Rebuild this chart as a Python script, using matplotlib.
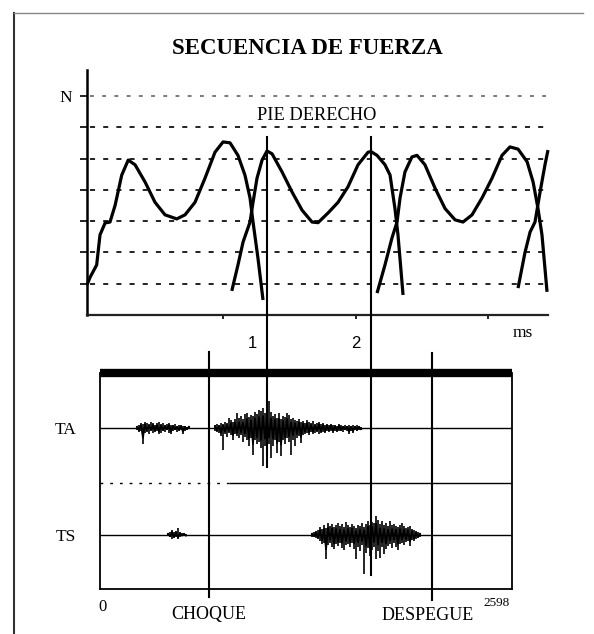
import numpy as np
import matplotlib
matplotlib.use('Agg')
import matplotlib.pyplot as plt

plt.rcParams['font.family'] = ['Liberation Serif', 'DejaVu Serif']

# force curves, x in ms (same scale as EMG below), y in grid units
step1_t = [-82, -63, -21, 0, 32, 63, 95, 137, 178, 221, 284, 347, 410, 484, 536,
           599, 662, 725, 776, 820, 870, 914, 946, 965, 996, 1028]
step1_f = [0.96, 1.2, 1.6, 2.56, 2.94, 2.97, 3.5, 4.47, 4.95, 4.8, 4.25, 3.6, 3.2, 3.07, 3.2,
           3.6, 4.37, 5.2, 5.53, 5.5, 5.1, 4.47, 3.74, 2.97, 1.82, 0.48]
step2_t = [831, 870, 902, 946, 965, 990, 1022, 1053, 1085, 1148, 1211, 1274, 1337, 1375,
           1438, 1501, 1564, 1627, 1690, 1709, 1747, 1797, 1829, 1860, 1879, 1911]
step2_f = [0.77, 1.6, 2.33, 2.97, 3.6, 4.37, 4.95, 5.24, 5.15, 4.57, 3.93, 3.35, 2.97, 2.95,
           3.26, 3.6, 4.1, 4.8, 5.2, 5.22, 5.1, 4.8, 4.47, 3.4, 2.56, 0.64]
step3_t = [1747, 1797, 1841, 1873, 1892, 1923, 1967, 1999, 2049, 2113, 2176, 2239, 2289,
           2346, 2409, 2472, 2535, 2585, 2636, 2693, 2731, 2762, 2787, 2819]
step3_f = [0.7, 1.6, 2.46, 2.97, 3.74, 4.57, 5.05, 5.1, 4.8, 4.05, 3.4, 3.04, 2.97,
           3.2, 3.74, 4.37, 5.1, 5.37, 5.3, 4.9, 4.25, 3.4, 2.56, 0.74]
step4_t = [2636, 2680, 2712, 2743, 2775, 2806, 2825]
step4_f = [0.86, 2.0, 2.65, 2.97, 3.93, 4.8, 5.27]

grid_levels = [1, 2, 3, 4, 5, 6, 7]
force_ticks = [776, 1614, 2447]

# events (ms)
t_total = 2598
t_choque = 687
t_despegue = 2094
t_mark1 = 1053
t_mark2 = 1709

# EMG bursts: (start ms, end ms), upper / lower envelope per sample
ta1_span = (233, 561)
ta1_hi = [2, 3, 5, 4, 6, 5, 4, 6, 5, 3, 5, 6, 4, 5, 3, 4, 5, 3, 3, 4, 2, 3, 3, 2, 2, 1, 2]
ta1_lo = [-2, -4, -3, -16, -5, -4, -6, -3, -5, -4, -3, -6, -5, -3, -4, -2, -5, -6, -3, -2,
          -4, -3, -2, -6, -3, -2, -1]
ta2_span = (725, 1646)
ta2_hi = [3, 4, 3, 5, 4, 6, 5, 10, 8, 6, 9, 15, 10, 12, 9, 14, 15, 11, 13, 12, 16, 14, 18, 17,
          20, 15, 18, 27, 16, 12, 14, 10, 15, 9, 12, 11, 15, 13, 9, 10, 8, 7, 9, 6, 7, 5, 8, 6,
          5, 7, 4, 5, 6, 4, 5, 3, 4, 3, 4, 3, 3, 2, 4, 3, 2, 3, 2, 3, 2, 3, 2, 3, 2, 1]
ta2_lo = [-3, -4, -5, -8, -22, -6, -9, -5, -7, -12, -6, -8, -10, -7, -14, -9, -12, -18, -10,
          -27, -12, -16, -14, -20, -38, -18, -14, -16, -30, -18, -12, -25, -14, -28, -12, -16,
          -10, -14, -27, -12, -18, -10, -8, -15, -7, -6, -5, -7, -4, -6, -5, -4, -6, -5, -4,
          -5, -3, -4, -3, -5, -3, -4, -3, -3, -4, -2, -3, -6, -3, -5, -2, -3, -2, -2]
ts1_span = (429, 542)
ts1_hi = [2, 3, 5, 3, 4, 7, 3, 2, 2, 1]
ts1_lo = [-1, -2, -4, -3, -2, -4, -2, -1, -1, -1]
ts2_span = (1337, 2018)
ts2_hi = [2, 3, 4, 5, 8, 6, 10, 7, 12, 9, 11, 8, 10, 12, 9, 11, 8, 13, 10, 8, 11, 9, 7, 10,
          9, 12, 8, 11, 14, 10, 13, 12, 19, 15, 11, 14, 10, 12, 9, 14, 10, 11, 9, 8, 10, 12,
          9, 7, 8, 9, 6, 5, 4, 3, 2]
ts2_lo = [-2, -2, -3, -4, -6, -9, -8, -24, -10, -8, -12, -14, -9, -11, -8, -13, -15, -10, -9,
          -12, -8, -14, -24, -12, -16, -10, -39, -18, -13, -21, -15, -12, -24, -16, -23, -12,
          -19, -14, -11, -9, -13, -8, -12, -15, -9, -8, -10, -7, -6, -11, -5, -6, -4, -3, -2]

ta_base = 161
ts_base = 54
mid_line = 106

fig = plt.figure(figsize=(5.94, 6.34), dpi=100)

# page frame (left + top rule of the scanned page)
frame = fig.add_axes([14 / 594, 0, 569 / 594, 1 - 13 / 634])
frame.set_xticks([])
frame.set_yticks([])
frame.patch.set_alpha(0)
for s in ['right', 'bottom']:
    frame.spines[s].set_visible(False)
frame.spines['top'].set_color('#888888')
frame.spines['top'].set_linewidth(1)
frame.spines['left'].set_color('#333333')
frame.spines['left'].set_linewidth(1.5)

fig.text(0.517, 1 - 49 / 634, 'SECUENCIA DE FUERZA', ha='center', va='center',
         fontsize=16.5, fontweight='bold')

# force plot
ax1 = fig.add_axes([87 / 594, 1 - 315 / 634, 461 / 594, 245 / 634])
ax1.set_xlim(-82, 2825)
ax1.set_ylim(0, 245 / 31.3)
ax1.patch.set_alpha(0)
ax1.spines['top'].set_visible(False)
ax1.spines['right'].set_visible(False)
ax1.spines['left'].set_linewidth(1.8)
ax1.spines['bottom'].set_linewidth(1.6)
ax1.spines['bottom'].set_color('#222222')

ax1.hlines(grid_levels[:-1], -60, 2825, colors='#111111', lw=1.3,
           linestyles=[(0, (2.8, 4.5))])
ax1.hlines(grid_levels[-1:], -60, 2825, colors='#555555', lw=1.1,
           linestyles=[(0, (2.5, 5.5))])

for t, f in [(step1_t, step1_f), (step2_t, step2_f), (step3_t, step3_f), (step4_t, step4_f)]:
    ax1.plot(t, f, color='black', lw=2.3, solid_joinstyle='round', solid_capstyle='butt',
             clip_on=False)

ax1.set_yticks(grid_levels)
ax1.set_yticklabels([''] * (len(grid_levels) - 1) + ['N'], fontsize=12.5)
ax1.tick_params(axis='y', direction='out', length=5, width=1.2, pad=6)
ax1.set_xticks(force_ticks)
ax1.set_xticklabels([])
ax1.tick_params(axis='x', direction='out', length=3, width=1.2)

ax1.text(1368, (315 - 116) / 31.3, 'PIE DERECHO', ha='center', va='center', fontsize=13.2)
ax1.text(2667, -18 / 245, 'ms', transform=ax1.get_xaxis_transform(),
         ha='center', va='center', fontsize=12.5)

# EMG plot
ax2 = fig.add_axes([100 / 594, 1 - 589 / 634, 412 / 594, 216 / 634])
ax2.set_xlim(0, t_total)
ax2.set_ylim(0, 216)
ax2.patch.set_alpha(0)
for s in ['left', 'right', 'bottom']:
    ax2.spines[s].set_linewidth(1.3)
ax2.spines['top'].set_linewidth(6)
ax2.spines['top'].set_capstyle('butt')

ax2.axhline(ta_base, color='black', lw=1.0)
ax2.axhline(ts_base, color='black', lw=1.0)
ax2.plot([0, 820], [mid_line, mid_line], color='black', lw=1.0, ls=(0, (2, 5)))
ax2.plot([820, t_total], [mid_line, mid_line], color='black', lw=1.0)

for span, hi, lo, base in [(ta1_span, ta1_hi, ta1_lo, ta_base),
                           (ta2_span, ta2_hi, ta2_lo, ta_base),
                           (ts1_span, ts1_hi, ts1_lo, ts_base),
                           (ts2_span, ts2_hi, ts2_lo, ts_base)]:
    t = np.linspace(span[0], span[1], len(hi))
    ax2.vlines(t, base + np.array(lo), base + np.array(hi), color='black', lw=1.2)
    # zig-zag trace through alternating peaks
    zz = np.where(np.arange(len(hi)) % 2 == 0, np.array(hi) * 0.6, np.array(lo) * 0.6)
    ax2.plot(t, base + zz, color='black', lw=1.3)

ax2.set_yticks([ta_base, ts_base])
ax2.set_yticklabels(['TA', 'TS'], fontsize=12.5)
ax2.tick_params(axis='y', length=0, pad=17)
ax2.set_xticks([])

# event lines spanning both panels
ax2.axvline(t_mark1, ymin=(589 - 467) / 216, ymax=(589 - 137) / 216, color='black',
            lw=1.5, clip_on=False)
ax2.axvline(t_mark2, ymin=(589 - 575) / 216, ymax=(589 - 137) / 216, color='black',
            lw=1.5, clip_on=False)
ax2.axvline(t_choque, ymin=(589 - 597) / 216, ymax=(589 - 352) / 216, color='black',
            lw=1.5, clip_on=False)
ax2.axvline(t_despegue, ymin=(589 - 600) / 216, ymax=(589 - 353) / 216, color='black',
            lw=1.5, clip_on=False)

xa = ax2.get_xaxis_transform()
ax2.text(t_mark1 - 95, (589 - 343) / 216, '1', transform=xa, ha='center', va='center',
         fontsize=12, family='Liberation Sans')
ax2.text(t_mark2 - 95, (589 - 343) / 216, '2', transform=xa, ha='center', va='center',
         fontsize=12, family='Liberation Sans')
ax2.text(13, -18 / 216, '0', transform=xa, ha='center', va='center', fontsize=12)
ax2.text(t_choque, -26 / 216, 'CHOQUE', transform=xa, ha='center', va='center', fontsize=13)
ax2.text(t_despegue - 25, -26 / 216, 'DESPEGUE', transform=xa, ha='center', va='center',
         fontsize=13)
ax2.text(2503, -14 / 216, str(t_total), transform=xa, ha='center', va='center', fontsize=9.5)

fig.savefig('out.png', dpi=100, facecolor='white')
